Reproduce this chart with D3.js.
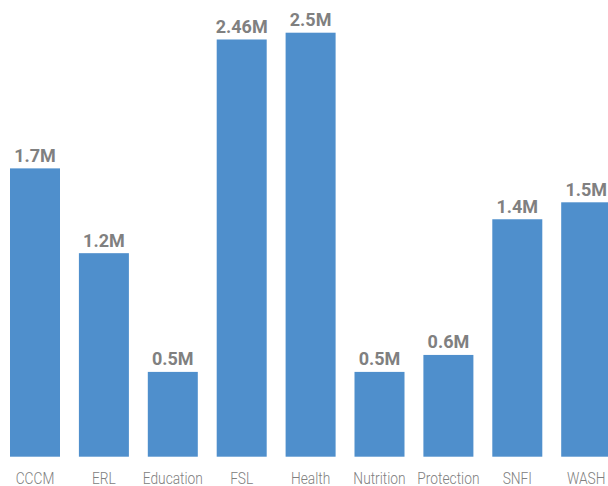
<!DOCTYPE html>
<html>
<head>
<meta charset="utf-8">
<script src="https://cdn.jsdelivr.net/npm/d3@7"></script>
<style>
  html, body { margin: 0; padding: 0; background: #fff; overflow: hidden; }
  svg { display: block; }
</style>
</head>
<body>
<svg id="chart" width="608" height="486"></svg>
<script>
const categories = ["CCCM", "ERL", "Education", "FSL", "Health", "Nutrition", "Protection", "SNFI", "WASH"];
const values = [1.7, 1.2, 0.5, 2.46, 2.5, 0.5, 0.6, 1.4, 1.5];
const valueLabels = ["1.7M", "1.2M", "0.5M", "2.46M", "2.5M", "0.5M", "0.6M", "1.4M", "1.5M"];

const svg = d3.select("#chart");
const baseline = 456.7;

const step = 68.9, bw = 50;
const x = d3.scaleBand()
  .domain(categories)
  .range([10 - (step - bw) / 2, 10 - (step - bw) / 2 + step * categories.length])
  .paddingInner((step - bw) / step)
  .paddingOuter((step - bw) / step / 2);

const y = d3.scaleLinear().domain([0, 2.5]).range([baseline, 32.7]);

const data = categories.map((c, i) => ({ c, v: values[i], label: valueLabels[i] }));

svg.append("g").selectAll("rect")
  .data(data).join("rect")
  .attr("x", d => x(d.c))
  .attr("y", d => y(d.v))
  .attr("width", x.bandwidth())
  .attr("height", d => baseline - y(d.v))
  .attr("fill", "#4f8fcc");

svg.append("g").selectAll("text")
  .data(data).join("text")
  .attr("x", d => x(d.c) + x.bandwidth() / 2)
  .attr("y", d => y(d.v) - 6.5)
  .attr("text-anchor", "middle")
  .attr("font-family", "Roboto, sans-serif")
  .attr("font-weight", "bold")
  .attr("font-size", 18)
  .attr("fill", "#808080")
  .text(d => d.label);

const xAxis = d3.axisBottom(x).tickSize(0).tickPadding(0);
const ax = svg.append("g").attr("transform", `translate(0,${baseline})`).call(xAxis);
ax.select(".domain").remove();
ax.selectAll(".tick text")
  .attr("font-family", "Roboto, sans-serif")
  .attr("font-weight", 300)
  .attr("font-size", 17)
  .attr("fill", "#808080")
  .attr("dy", null)
  .attr("y", 27.6)
  .attr("transform", "scale(0.81,1)")
  .attr("x", 0);
</script>
</body>
</html>
